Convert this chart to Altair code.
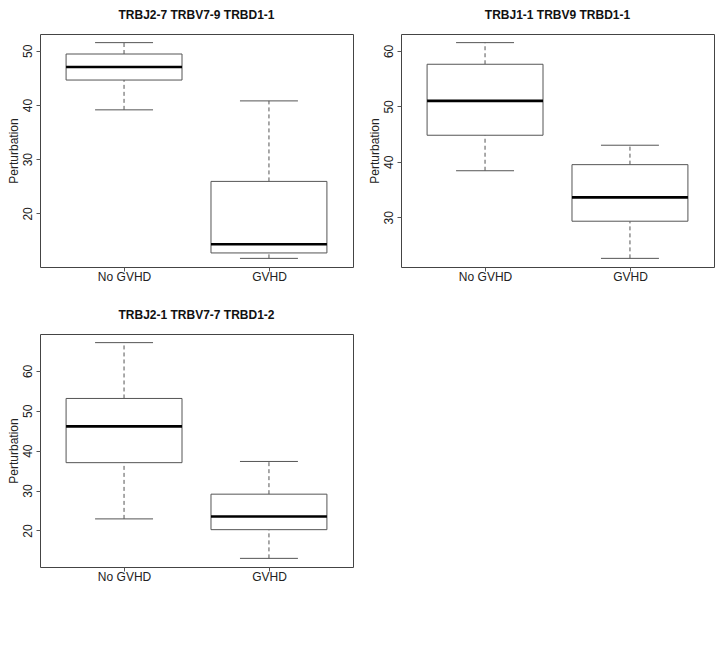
import altair as alt
import pandas as pd

titles = ["TRBJ2-7 TRBV7-9 TRBD1-1", "TRBJ1-1 TRBV9 TRBD1-1", "TRBJ2-1 TRBV7-7 TRBD1-2"]
groups = ["No GVHD", "GVHD"]
lower = [[39.1, 11.7], [38.4, 22.6], [22.9, 13.0]]
q1 = [[44.6, 12.7], [44.8, 29.3], [37.0, 20.2]]
median = [[47.0, 14.3], [51.0, 33.6], [46.1, 23.5]]
q3 = [[49.4, 25.9], [57.6, 39.5], [53.1, 29.1]]
upper = [[51.5, 40.75], [61.5, 43.0], [67.1, 37.3]]
y_ticks = [[20, 30, 40, 50], [30, 40, 50, 60], [20, 30, 40, 50, 60]]

FONT = "Liberation Sans"
BOX_COLOR = "#555555"


def panel(i):
    df = pd.DataFrame({
        "group": groups,
        "pos": [1, 2],
        "lower": lower[i],
        "q1": q1[i],
        "median": median[i],
        "q3": q3[i],
        "upper": upper[i],
    })
    df["box_l"] = df["pos"] - 0.4
    df["box_r"] = df["pos"] + 0.4
    df["cap_l"] = df["pos"] - 0.2
    df["cap_r"] = df["pos"] + 0.2

    lo = min(lower[i])
    hi = max(upper[i])
    pad = 0.04 * (hi - lo)
    yscale = alt.Scale(domain=[lo - pad, hi + pad], nice=False, zero=False)
    xscale = alt.Scale(domain=[0.42, 2.58], nice=False, zero=False)

    xaxis = alt.Axis(
        values=[1, 2],
        labelExpr=f"datum.value == 1 ? '{groups[0]}' : '{groups[1]}'",
        title=None, grid=False, domain=False, tickSize=4, labelPadding=0,
        labelFontSize=12,
    )
    yaxis = alt.Axis(
        values=y_ticks[i], title="Perturbation", grid=False, domain=False,
        tickSize=4, labelAngle=270, labelAlign="center", labelBaseline="bottom",
        labelPadding=2, titlePadding=1, labelFontSize=12, titleFontSize=12,
        titleFontWeight="normal",
    )

    base = alt.Chart(df)

    def X(f):
        return alt.X(f"{f}:Q", scale=xscale, axis=xaxis)

    def Y(f):
        return alt.Y(f"{f}:Q", scale=yscale, axis=yaxis)

    whisk_up = base.mark_rule(strokeDash=[4, 3], color=BOX_COLOR, strokeWidth=1).encode(
        x=X("pos"), y=Y("q3"), y2="upper:Q")
    whisk_lo = base.mark_rule(strokeDash=[4, 3], color=BOX_COLOR, strokeWidth=1).encode(
        x=X("pos"), y=Y("lower"), y2="q1:Q")
    cap_up = base.mark_rule(color=BOX_COLOR, strokeWidth=1).encode(
        x=X("cap_l"), x2="cap_r:Q", y=Y("upper"))
    cap_lo = base.mark_rule(color=BOX_COLOR, strokeWidth=1).encode(
        x=X("cap_l"), x2="cap_r:Q", y=Y("lower"))
    box = base.mark_rect(fill="white", stroke=BOX_COLOR, strokeWidth=1).encode(
        x=X("box_l"), x2="box_r:Q", y=Y("q1"), y2="q3:Q")
    med = base.mark_rule(color="black", strokeWidth=2.6).encode(
        x=X("box_l"), x2="box_r:Q", y=Y("median"))

    return alt.layer(whisk_up, whisk_lo, cap_up, cap_lo, box, med).properties(
        width=313, height=233,
        title=alt.TitleParams(text=titles[i], offset=12),
    )


chart = alt.concat(
    panel(0), panel(1), panel(2),
    columns=2,
    spacing={"row": 67, "column": 48},
    bounds="flush",
).properties(
    padding={"left": 6, "top": 8, "right": 5, "bottom": 5},
    background="white",
).configure_view(
    stroke="#444444", strokeWidth=1, fill="white"
).configure_axis(
    labelFont=FONT, titleFont=FONT, labelColor="#222222", titleColor="#222222",
    tickColor=BOX_COLOR, tickWidth=1,
).configure_title(
    font=FONT, fontSize=12, fontWeight="bold", color="#111111", anchor="middle",
)

chart.save("out.html", embed_options={"renderer": "svg", "actions": False})
